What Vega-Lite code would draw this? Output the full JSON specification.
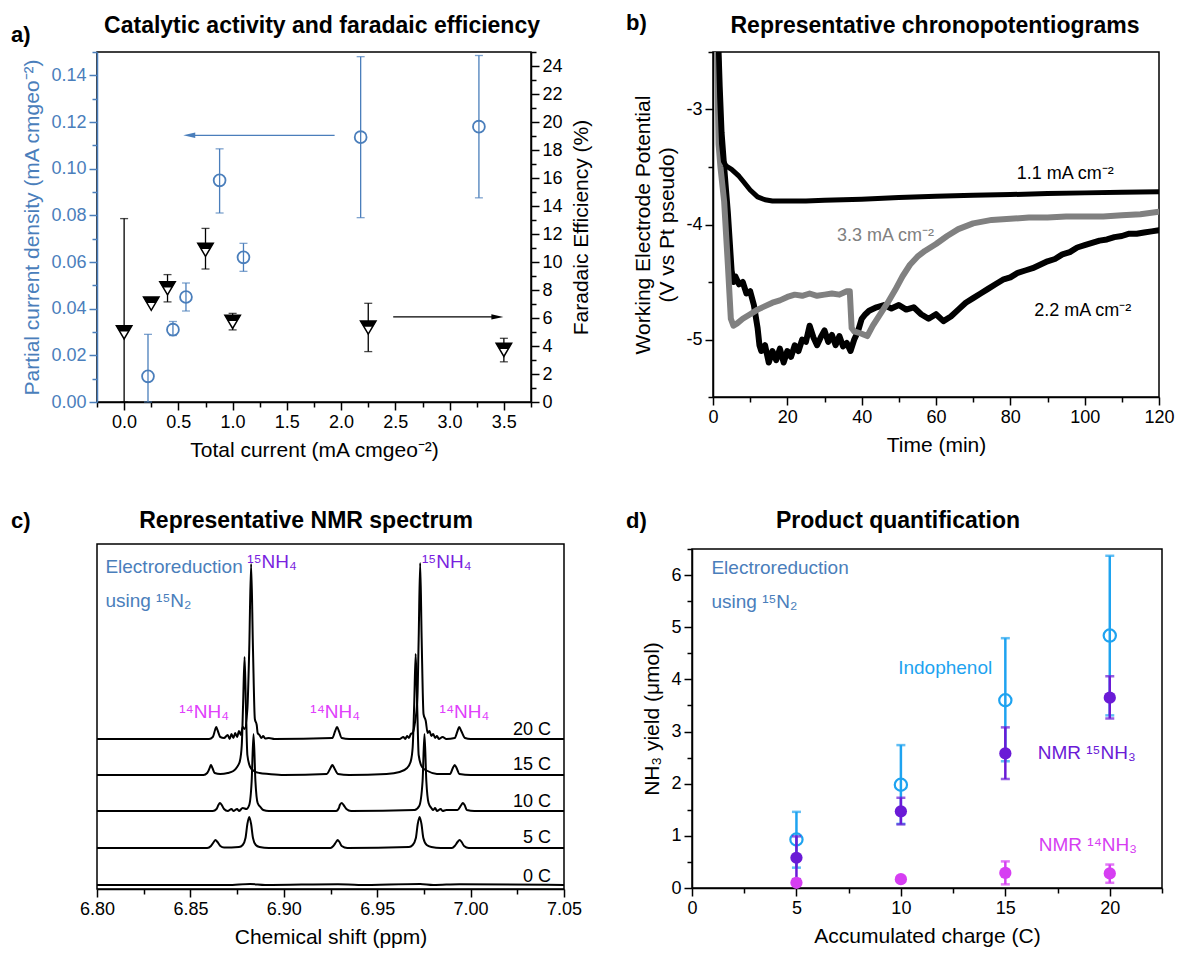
{
"$schema": "https://vega.github.io/schema/vega-lite/v6.json",
"background": "white",
"padding": {"left": 10, "top": 11, "right": 2, "bottom": 2},
"config": {
  "font": "Liberation Sans",
  "view": {"stroke": "black", "strokeWidth": 1.5},
  "axis": {"labelFont": "Liberation Sans", "titleFont": "Liberation Sans", "labelFontSize": 18, "titleFontSize": 21, "titleFontWeight": "normal", "grid": false, "tickSize": 8, "tickWidth": 1.5, "domainWidth": 1.5, "domainColor": "black", "tickColor": "black", "labelColor": "black", "titleColor": "black", "labelPadding": 3, "titlePadding": 8, "labelFlush": false, "labelOverlap": false, "labelBound": false},
  "text": {"font": "Liberation Sans"}
},
"datasets": {
  "a_pcd": [
    {"tc":0.22,"pcd":0.011,"lo":0.0,"hi":0.029},
    {"tc":0.45,"pcd":0.031,"lo":0.0285,"hi":0.0345},
    {"tc":0.57,"pcd":0.045,"lo":0.039,"hi":0.051},
    {"tc":0.88,"pcd":0.095,"lo":0.081,"hi":0.1085},
    {"tc":1.10,"pcd":0.062,"lo":0.056,"hi":0.068},
    {"tc":2.18,"pcd":0.1135,"lo":0.079,"hi":0.148},
    {"tc":3.27,"pcd":0.118,"lo":0.0875,"hi":0.1485}
  ],
  "a_fe": [
    {"tc":0.0,"fe":5.0,"lo":0,"hi":13.1},
    {"tc":0.25,"fe":7.05,"lo":7.05,"hi":7.05},
    {"tc":0.40,"fe":8.15,"lo":7.15,"hi":9.1},
    {"tc":0.75,"fe":10.9,"lo":9.5,"hi":12.4},
    {"tc":1.0,"fe":5.75,"lo":5.15,"hi":6.33},
    {"tc":2.25,"fe":5.35,"lo":3.6,"hi":7.05},
    {"tc":3.5,"fe":3.75,"lo":2.87,"hi":4.55}
  ],
  "b_lines": [
    {"t":1.3,"v":-2.3,"s":"1.1"},{"t":1.8,"v":-2.9,"s":"1.1"},{"t":2.3,"v":-3.3,"s":"1.1"},{"t":2.8,"v":-3.45,"s":"1.1"},{"t":3.5,"v":-3.49,"s":"1.1"},{"t":5,"v":-3.52,"s":"1.1"},{"t":7,"v":-3.58,"s":"1.1"},{"t":8,"v":-3.62,"s":"1.1"},{"t":10,"v":-3.70,"s":"1.1"},{"t":12,"v":-3.76,"s":"1.1"},{"t":14,"v":-3.785,"s":"1.1"},{"t":16,"v":-3.795,"s":"1.1"},{"t":20,"v":-3.795,"s":"1.1"},{"t":25,"v":-3.795,"s":"1.1"},{"t":30,"v":-3.79,"s":"1.1"},{"t":40,"v":-3.78,"s":"1.1"},{"t":50,"v":-3.765,"s":"1.1"},{"t":60,"v":-3.755,"s":"1.1"},{"t":70,"v":-3.745,"s":"1.1"},{"t":80,"v":-3.74,"s":"1.1"},{"t":90,"v":-3.73,"s":"1.1"},{"t":100,"v":-3.725,"s":"1.1"},{"t":110,"v":-3.72,"s":"1.1"},{"t":120,"v":-3.715,"s":"1.1"},
    {"t":1.0,"v":-2.3,"s":"3.3"},{"t":1.5,"v":-3.3,"s":"3.3"},{"t":2.0,"v":-3.5,"s":"3.3"},{"t":3.0,"v":-3.8,"s":"3.3"},{"t":4.0,"v":-4.35,"s":"3.3"},{"t":4.8,"v":-4.82,"s":"3.3"},{"t":5.5,"v":-4.88,"s":"3.3"},{"t":6.5,"v":-4.86,"s":"3.3"},{"t":8,"v":-4.82,"s":"3.3"},{"t":10,"v":-4.78,"s":"3.3"},{"t":12,"v":-4.74,"s":"3.3"},{"t":14,"v":-4.71,"s":"3.3"},{"t":16,"v":-4.68,"s":"3.3"},{"t":18,"v":-4.66,"s":"3.3"},{"t":20,"v":-4.63,"s":"3.3"},{"t":22,"v":-4.61,"s":"3.3"},{"t":24,"v":-4.62,"s":"3.3"},{"t":26,"v":-4.6,"s":"3.3"},{"t":28,"v":-4.62,"s":"3.3"},{"t":30,"v":-4.61,"s":"3.3"},{"t":32,"v":-4.6,"s":"3.3"},{"t":34,"v":-4.61,"s":"3.3"},{"t":36,"v":-4.58,"s":"3.3"},{"t":36.8,"v":-4.58,"s":"3.3"},{"t":37.3,"v":-4.9,"s":"3.3"},{"t":38,"v":-4.93,"s":"3.3"},{"t":40,"v":-4.95,"s":"3.3"},{"t":41.5,"v":-4.97,"s":"3.3"},{"t":43,"v":-4.88,"s":"3.3"},{"t":45,"v":-4.78,"s":"3.3"},{"t":47,"v":-4.68,"s":"3.3"},{"t":49,"v":-4.57,"s":"3.3"},{"t":51,"v":-4.45,"s":"3.3"},{"t":53,"v":-4.35,"s":"3.3"},{"t":55,"v":-4.28,"s":"3.3"},{"t":57,"v":-4.23,"s":"3.3"},{"t":60,"v":-4.17,"s":"3.3"},{"t":63,"v":-4.1,"s":"3.3"},{"t":66,"v":-4.04,"s":"3.3"},{"t":70,"v":-3.99,"s":"3.3"},{"t":75,"v":-3.96,"s":"3.3"},{"t":80,"v":-3.95,"s":"3.3"},{"t":85,"v":-3.94,"s":"3.3"},{"t":90,"v":-3.94,"s":"3.3"},{"t":95,"v":-3.93,"s":"3.3"},{"t":100,"v":-3.93,"s":"3.3"},{"t":105,"v":-3.93,"s":"3.3"},{"t":110,"v":-3.92,"s":"3.3"},{"t":115,"v":-3.91,"s":"3.3"},{"t":120,"v":-3.89,"s":"3.3"},
    {"t":1.3,"v":-2.3,"s":"2.2"},{"t":1.8,"v":-2.8,"s":"2.2"},{"t":2.3,"v":-3.2,"s":"2.2"},{"t":3,"v":-3.5,"s":"2.2"},{"t":3.5,"v":-3.7,"s":"2.2"},{"t":4,"v":-3.9,"s":"2.2"},{"t":4.5,"v":-4.15,"s":"2.2"},{"t":5,"v":-4.4,"s":"2.2"},{"t":5.5,"v":-4.5,"s":"2.2"},{"t":6,"v":-4.45,"s":"2.2"},{"t":7,"v":-4.52,"s":"2.2"},{"t":8,"v":-4.5,"s":"2.2"},{"t":9,"v":-4.6,"s":"2.2"},{"t":10,"v":-4.58,"s":"2.2"},{"t":11,"v":-4.7,"s":"2.2"},{"t":12,"v":-4.9,"s":"2.2"},{"t":12.5,"v":-5.05,"s":"2.2"},{"t":13,"v":-5.1,"s":"2.2"},{"t":14,"v":-5.05,"s":"2.2"},{"t":15,"v":-5.2,"s":"2.2"},{"t":16,"v":-5.1,"s":"2.2"},{"t":17,"v":-5.18,"s":"2.2"},{"t":18,"v":-5.08,"s":"2.2"},{"t":19,"v":-5.2,"s":"2.2"},{"t":20,"v":-5.1,"s":"2.2"},{"t":21,"v":-5.15,"s":"2.2"},{"t":22,"v":-5.05,"s":"2.2"},{"t":23,"v":-5.1,"s":"2.2"},{"t":24,"v":-5.0,"s":"2.2"},{"t":25,"v":-5.02,"s":"2.2"},{"t":26,"v":-4.88,"s":"2.2"},{"t":27,"v":-4.98,"s":"2.2"},{"t":28,"v":-5.05,"s":"2.2"},{"t":29,"v":-4.98,"s":"2.2"},{"t":30,"v":-4.92,"s":"2.2"},{"t":31,"v":-5.02,"s":"2.2"},{"t":32,"v":-4.96,"s":"2.2"},{"t":33,"v":-5.05,"s":"2.2"},{"t":34,"v":-4.97,"s":"2.2"},{"t":35,"v":-5.06,"s":"2.2"},{"t":36,"v":-5.03,"s":"2.2"},{"t":37,"v":-5.1,"s":"2.2"},{"t":38,"v":-5.0,"s":"2.2"},{"t":39,"v":-4.93,"s":"2.2"},{"t":40,"v":-4.82,"s":"2.2"},{"t":41,"v":-4.78,"s":"2.2"},{"t":42,"v":-4.75,"s":"2.2"},{"t":44,"v":-4.72,"s":"2.2"},{"t":46,"v":-4.7,"s":"2.2"},{"t":48,"v":-4.73,"s":"2.2"},{"t":50,"v":-4.7,"s":"2.2"},{"t":52,"v":-4.74,"s":"2.2"},{"t":54,"v":-4.72,"s":"2.2"},{"t":56,"v":-4.78,"s":"2.2"},{"t":58,"v":-4.82,"s":"2.2"},{"t":60,"v":-4.78,"s":"2.2"},{"t":62,"v":-4.84,"s":"2.2"},{"t":64,"v":-4.8,"s":"2.2"},{"t":66,"v":-4.74,"s":"2.2"},{"t":68,"v":-4.68,"s":"2.2"},{"t":70,"v":-4.64,"s":"2.2"},{"t":72,"v":-4.6,"s":"2.2"},{"t":74,"v":-4.56,"s":"2.2"},{"t":76,"v":-4.52,"s":"2.2"},{"t":78,"v":-4.48,"s":"2.2"},{"t":80,"v":-4.46,"s":"2.2"},{"t":82,"v":-4.42,"s":"2.2"},{"t":84,"v":-4.4,"s":"2.2"},{"t":86,"v":-4.38,"s":"2.2"},{"t":88,"v":-4.35,"s":"2.2"},{"t":90,"v":-4.32,"s":"2.2"},{"t":92,"v":-4.3,"s":"2.2"},{"t":94,"v":-4.26,"s":"2.2"},{"t":96,"v":-4.24,"s":"2.2"},{"t":98,"v":-4.2,"s":"2.2"},{"t":100,"v":-4.18,"s":"2.2"},{"t":102,"v":-4.16,"s":"2.2"},{"t":104,"v":-4.14,"s":"2.2"},{"t":106,"v":-4.13,"s":"2.2"},{"t":108,"v":-4.11,"s":"2.2"},{"t":110,"v":-4.1,"s":"2.2"},{"t":112,"v":-4.08,"s":"2.2"},{"t":114,"v":-4.08,"s":"2.2"},{"t":116,"v":-4.07,"s":"2.2"},{"t":118,"v":-4.06,"s":"2.2"},{"t":120,"v":-4.05,"s":"2.2"}
  ],
  "c_spec": [
    {"p":6.8,"I":150,"s":"20"},{"p":6.86,"I":150,"s":"20"},{"p":6.862,"I":152,"s":"20"},{"p":6.8632,"I":159,"s":"20"},{"p":6.8638,"I":162,"s":"20"},{"p":6.8645,"I":159,"s":"20"},{"p":6.866,"I":152,"s":"20"},{"p":6.868,"I":151,"s":"20"},{"p":6.87,"I":154,"s":"20"},{"p":6.871,"I":150,"s":"20"},{"p":6.872,"I":155,"s":"20"},{"p":6.873,"I":151,"s":"20"},{"p":6.874,"I":156,"s":"20"},{"p":6.875,"I":152,"s":"20"},{"p":6.876,"I":158,"s":"20"},{"p":6.877,"I":154,"s":"20"},{"p":6.878,"I":162,"s":"20"},{"p":6.879,"I":160,"s":"20"},{"p":6.8805,"I":180,"s":"20"},{"p":6.8815,"I":240,"s":"20"},{"p":6.8825,"I":325,"s":"20"},{"p":6.8835,"I":240,"s":"20"},{"p":6.8845,"I":170,"s":"20"},{"p":6.8855,"I":164,"s":"20"},{"p":6.886,"I":156,"s":"20"},{"p":6.887,"I":154,"s":"20"},{"p":6.888,"I":151,"s":"20"},{"p":6.889,"I":153,"s":"20"},{"p":6.89,"I":150.5,"s":"20"},{"p":6.892,"I":151,"s":"20"},{"p":6.895,"I":150,"s":"20"},{"p":6.926,"I":151,"s":"20"},{"p":6.9275,"I":158,"s":"20"},{"p":6.9285,"I":162,"s":"20"},{"p":6.9295,"I":158,"s":"20"},{"p":6.931,"I":151,"s":"20"},{"p":6.935,"I":150,"s":"20"},{"p":6.962,"I":150,"s":"20"},{"p":6.964,"I":152,"s":"20"},{"p":6.965,"I":150,"s":"20"},{"p":6.966,"I":153,"s":"20"},{"p":6.967,"I":151,"s":"20"},{"p":6.968,"I":155,"s":"20"},{"p":6.969,"I":156,"s":"20"},{"p":6.97,"I":164,"s":"20"},{"p":6.9715,"I":190,"s":"20"},{"p":6.9722,"I":250,"s":"20"},{"p":6.973,"I":326,"s":"20"},{"p":6.9738,"I":250,"s":"20"},{"p":6.9748,"I":175,"s":"20"},{"p":6.976,"I":168,"s":"20"},{"p":6.977,"I":156,"s":"20"},{"p":6.978,"I":158,"s":"20"},{"p":6.979,"I":153,"s":"20"},{"p":6.98,"I":155,"s":"20"},{"p":6.981,"I":151,"s":"20"},{"p":6.982,"I":153,"s":"20"},{"p":6.983,"I":150,"s":"20"},{"p":6.985,"I":152,"s":"20"},{"p":6.987,"I":150,"s":"20"},{"p":6.9915,"I":151,"s":"20"},{"p":6.993,"I":158,"s":"20"},{"p":6.9939,"I":162,"s":"20"},{"p":6.995,"I":158,"s":"20"},{"p":6.997,"I":151,"s":"20"},{"p":7.0,"I":150,"s":"20"},{"p":7.05,"I":150,"s":"20"},
    {"p":6.8,"I":114,"s":"15"},{"p":6.857,"I":114,"s":"15"},{"p":6.859,"I":116,"s":"15"},{"p":6.8603,"I":121,"s":"15"},{"p":6.861,"I":124,"s":"15"},{"p":6.8618,"I":121,"s":"15"},{"p":6.863,"I":116,"s":"15"},{"p":6.866,"I":115,"s":"15"},{"p":6.87,"I":116,"s":"15"},{"p":6.873,"I":118,"s":"15"},{"p":6.875,"I":122,"s":"15"},{"p":6.8765,"I":128,"s":"15"},{"p":6.8775,"I":144,"s":"15"},{"p":6.8782,"I":184,"s":"15"},{"p":6.879,"I":232,"s":"15"},{"p":6.8797,"I":184,"s":"15"},{"p":6.8805,"I":134,"s":"15"},{"p":6.882,"I":122,"s":"15"},{"p":6.884,"I":118,"s":"15"},{"p":6.887,"I":116,"s":"15"},{"p":6.892,"I":115,"s":"15"},{"p":6.9,"I":114,"s":"15"},{"p":6.923,"I":115,"s":"15"},{"p":6.925,"I":121,"s":"15"},{"p":6.926,"I":124,"s":"15"},{"p":6.927,"I":121,"s":"15"},{"p":6.929,"I":115,"s":"15"},{"p":6.935,"I":114,"s":"15"},{"p":6.955,"I":115,"s":"15"},{"p":6.962,"I":117,"s":"15"},{"p":6.966,"I":121,"s":"15"},{"p":6.968,"I":128,"s":"15"},{"p":6.969,"I":142,"s":"15"},{"p":6.9698,"I":184,"s":"15"},{"p":6.9706,"I":235,"s":"15"},{"p":6.9714,"I":184,"s":"15"},{"p":6.9722,"I":134,"s":"15"},{"p":6.974,"I":122,"s":"15"},{"p":6.977,"I":118,"s":"15"},{"p":6.982,"I":115,"s":"15"},{"p":6.989,"I":115,"s":"15"},{"p":6.9905,"I":121,"s":"15"},{"p":6.9915,"I":124,"s":"15"},{"p":6.9925,"I":121,"s":"15"},{"p":6.994,"I":115,"s":"15"},{"p":7.0,"I":114,"s":"15"},{"p":7.05,"I":114,"s":"15"},
    {"p":6.8,"I":78,"s":"10"},{"p":6.862,"I":78,"s":"10"},{"p":6.864,"I":80,"s":"10"},{"p":6.865,"I":84,"s":"10"},{"p":6.8658,"I":86,"s":"10"},{"p":6.8668,"I":84,"s":"10"},{"p":6.868,"I":80,"s":"10"},{"p":6.87,"I":78,"s":"10"},{"p":6.872,"I":80,"s":"10"},{"p":6.873,"I":78,"s":"10"},{"p":6.875,"I":80,"s":"10"},{"p":6.876,"I":78,"s":"10"},{"p":6.878,"I":81,"s":"10"},{"p":6.88,"I":80,"s":"10"},{"p":6.8815,"I":84,"s":"10"},{"p":6.8828,"I":108,"s":"10"},{"p":6.8838,"I":155,"s":"10"},{"p":6.8848,"I":108,"s":"10"},{"p":6.886,"I":86,"s":"10"},{"p":6.8875,"I":82,"s":"10"},{"p":6.889,"I":79,"s":"10"},{"p":6.892,"I":78,"s":"10"},{"p":6.928,"I":78,"s":"10"},{"p":6.9295,"I":81,"s":"10"},{"p":6.93,"I":84,"s":"10"},{"p":6.931,"I":86,"s":"10"},{"p":6.932,"I":84,"s":"10"},{"p":6.9335,"I":80,"s":"10"},{"p":6.936,"I":78,"s":"10"},{"p":6.97,"I":79,"s":"10"},{"p":6.9725,"I":83,"s":"10"},{"p":6.9743,"I":108,"s":"10"},{"p":6.9753,"I":155,"s":"10"},{"p":6.9763,"I":108,"s":"10"},{"p":6.9775,"I":86,"s":"10"},{"p":6.979,"I":81,"s":"10"},{"p":6.98,"I":79,"s":"10"},{"p":6.981,"I":81,"s":"10"},{"p":6.982,"I":78,"s":"10"},{"p":6.984,"I":80,"s":"10"},{"p":6.985,"I":78,"s":"10"},{"p":6.987,"I":79,"s":"10"},{"p":6.993,"I":79,"s":"10"},{"p":6.995,"I":84,"s":"10"},{"p":6.9958,"I":86,"s":"10"},{"p":6.9968,"I":84,"s":"10"},{"p":6.998,"I":79,"s":"10"},{"p":7.002,"I":78,"s":"10"},{"p":7.05,"I":78,"s":"10"},
    {"p":6.8,"I":41,"s":"5"},{"p":6.859,"I":41,"s":"5"},{"p":6.861,"I":43,"s":"5"},{"p":6.8625,"I":47,"s":"5"},{"p":6.8634,"I":49,"s":"5"},{"p":6.8645,"I":47,"s":"5"},{"p":6.866,"I":43,"s":"5"},{"p":6.868,"I":41.5,"s":"5"},{"p":6.876,"I":42,"s":"5"},{"p":6.878,"I":44,"s":"5"},{"p":6.8795,"I":51,"s":"5"},{"p":6.8805,"I":65,"s":"5"},{"p":6.8815,"I":72,"s":"5"},{"p":6.8825,"I":65,"s":"5"},{"p":6.8835,"I":51,"s":"5"},{"p":6.885,"I":44,"s":"5"},{"p":6.887,"I":42,"s":"5"},{"p":6.892,"I":41,"s":"5"},{"p":6.925,"I":41,"s":"5"},{"p":6.9265,"I":43,"s":"5"},{"p":6.928,"I":47,"s":"5"},{"p":6.9288,"I":49,"s":"5"},{"p":6.9298,"I":47,"s":"5"},{"p":6.931,"I":43,"s":"5"},{"p":6.934,"I":41,"s":"5"},{"p":6.967,"I":42,"s":"5"},{"p":6.969,"I":44,"s":"5"},{"p":6.9707,"I":51,"s":"5"},{"p":6.9717,"I":65,"s":"5"},{"p":6.9727,"I":72,"s":"5"},{"p":6.9737,"I":65,"s":"5"},{"p":6.9747,"I":51,"s":"5"},{"p":6.9765,"I":44,"s":"5"},{"p":6.979,"I":42,"s":"5"},{"p":6.984,"I":41,"s":"5"},{"p":6.99,"I":41,"s":"5"},{"p":6.9915,"I":43,"s":"5"},{"p":6.993,"I":47,"s":"5"},{"p":6.9941,"I":49,"s":"5"},{"p":6.9952,"I":47,"s":"5"},{"p":6.9965,"I":43,"s":"5"},{"p":6.999,"I":41,"s":"5"},{"p":7.05,"I":41,"s":"5"},
    {"p":6.8,"I":4,"s":"0"},{"p":6.87,"I":4,"s":"0"},{"p":6.882,"I":5,"s":"0"},{"p":6.89,"I":4,"s":"0"},{"p":6.929,"I":4.8,"s":"0"},{"p":6.94,"I":4,"s":"0"},{"p":6.973,"I":5,"s":"0"},{"p":6.98,"I":4,"s":"0"},{"p":6.994,"I":4.8,"s":"0"},{"p":7.05,"I":4,"s":"0"}
  ],
  "d_data": [
    {"q":5,"y":0.93,"lo":0.39,"hi":1.46,"m":"indo"},{"q":10,"y":1.98,"lo":1.23,"hi":2.74,"m":"indo"},{"q":15,"y":3.60,"lo":2.43,"hi":4.79,"m":"indo"},{"q":20,"y":4.84,"lo":3.31,"hi":6.37,"m":"indo"},
    {"q":5,"y":0.58,"lo":0.17,"hi":0.99,"m":"n15"},{"q":10,"y":1.47,"lo":1.22,"hi":1.73,"m":"n15"},{"q":15,"y":2.58,"lo":2.09,"hi":3.08,"m":"n15"},{"q":20,"y":3.65,"lo":3.25,"hi":4.06,"m":"n15"},
    {"q":5,"y":0.10,"lo":0.05,"hi":0.15,"m":"n14"},{"q":10,"y":0.17,"lo":0.12,"hi":0.21,"m":"n14"},{"q":15,"y":0.29,"lo":0.07,"hi":0.51,"m":"n14"},{"q":20,"y":0.28,"lo":0.10,"hi":0.45,"m":"n14"}
  ]
},
"columns": 2,
"align": "none",
"spacing": {"row": 48, "column": 33},
"resolve": {"scale": {"color": "independent"}},
"concat": [
  {
   "width": 434, "height": 350,
   "resolve": {"scale": {"y": "independent"}, "axis": {"x": "independent", "y": "independent"}},
   "layer": [
    {"data": {"name": "a_pcd"}, "mark": {"type": "rule", "color": "#4a7ebb", "strokeWidth": 1.3},
     "encoding": {
      "x": {"field": "tc", "type": "quantitative", "scale": {"domain": [-0.25, 3.75], "nice": false, "zero": false}, "axis": {"orient": "bottom", "values": [0,0.5,1,1.5,2,2.5,3,3.5], "format": ".1f", "title": "Total current (mA cmgeo⁻²)"}},
      "y": {"field": "lo", "type": "quantitative", "scale": {"domain": [0, 0.15], "nice": false, "zero": false}, "axis": {"orient": "left", "values": [0,0.02,0.04,0.06,0.08,0.1,0.12,0.14], "format": ".2f", "title": "Partial current density (mA cmgeo⁻²)", "labelColor": "#4a7ebb", "titleColor": "#4a7ebb", "domainColor": "#4a7ebb", "tickColor": "#4a7ebb"}},
      "y2": {"field": "hi"}}},
    {"data": {"name": "a_pcd"}, "mark": {"type": "tick", "orient": "horizontal", "color": "#4a7ebb", "size": 8, "thickness": 1.3},
     "encoding": {
      "x": {"field": "tc", "type": "quantitative", "scale": {"domain": [-0.25, 3.75], "nice": false, "zero": false}, "axis": {"orient": "bottom", "values": [-0.25,0.25,0.75,1.25,1.75,2.25,2.75,3.25,3.75], "labels": false, "domain": false, "tickSize": 5, "title": null}},
      "y": {"field": "hi", "type": "quantitative", "scale": {"domain": [0, 0.15], "nice": false, "zero": false}, "axis": {"orient": "left", "values": [0.01,0.03,0.05,0.07,0.09,0.11,0.13,0.15], "labels": false, "domain": false, "tickSize": 5, "title": null, "tickColor": "#4a7ebb"}}}},
    {"data": {"name": "a_pcd"}, "mark": {"type": "tick", "orient": "horizontal", "color": "#4a7ebb", "size": 8, "thickness": 1.3},
     "encoding": {
      "x": {"field": "tc", "type": "quantitative", "scale": {"domain": [-0.25, 3.75], "nice": false, "zero": false}, "axis": null},
      "y": {"field": "lo", "type": "quantitative", "scale": {"domain": [0, 0.15], "nice": false, "zero": false}, "axis": null}}},
    {"data": {"name": "a_pcd"}, "mark": {"type": "point", "shape": "circle", "filled": false, "color": "#4a7ebb", "strokeWidth": 1.8, "size": 140, "opacity": 1},
     "encoding": {
      "x": {"field": "tc", "type": "quantitative", "scale": {"domain": [-0.25, 3.75], "nice": false, "zero": false}, "axis": null},
      "y": {"field": "pcd", "type": "quantitative", "scale": {"domain": [0, 0.15], "nice": false, "zero": false}, "axis": null}}},
    {"data": {"values": [{"x1": 1.94, "x2": 0.6, "y": 0.1143}]}, "mark": {"type": "rule", "color": "#4a7ebb", "strokeWidth": 1.3},
     "encoding": {
      "x": {"field": "x1", "type": "quantitative", "scale": {"domain": [-0.25, 3.75], "nice": false, "zero": false}, "axis": null},
      "x2": {"field": "x2"},
      "y": {"field": "y", "type": "quantitative", "scale": {"domain": [0, 0.15], "nice": false, "zero": false}, "axis": null}}},
    {"data": {"values": [{"x2": 0.6, "y": 0.1143}]}, "mark": {"type": "point", "shape": "M-1,0L1,-0.45L1,0.45Z", "filled": true, "color": "#4a7ebb", "size": 144, "opacity": 1},
     "encoding": {
      "x": {"field": "x2", "type": "quantitative", "scale": {"domain": [-0.25, 3.75], "nice": false, "zero": false}, "axis": null},
      "y": {"field": "y", "type": "quantitative", "scale": {"domain": [0, 0.15], "nice": false, "zero": false}, "axis": null}}},
    {"data": {"name": "a_fe"}, "mark": {"type": "rule", "color": "black", "strokeWidth": 1.3},
     "encoding": {
      "x": {"field": "tc", "type": "quantitative", "scale": {"domain": [-0.25, 3.75], "nice": false, "zero": false}, "axis": null},
      "y": {"field": "lo", "type": "quantitative", "scale": {"domain": [0, 25], "nice": false, "zero": false}, "axis": {"orient": "right", "values": [0,2,4,6,8,10,12,14,16,18,20,22,24], "title": "Faradaic Efficiency (%)", "titleAngle": 270, "titleBaseline": "top"}},
      "y2": {"field": "hi"}}},
    {"data": {"name": "a_fe"}, "mark": {"type": "tick", "orient": "horizontal", "color": "black", "size": 8, "thickness": 1.3},
     "encoding": {
      "x": {"field": "tc", "type": "quantitative", "scale": {"domain": [-0.25, 3.75], "nice": false, "zero": false}, "axis": null},
      "y": {"field": "hi", "type": "quantitative", "scale": {"domain": [0, 25], "nice": false, "zero": false}, "axis": {"orient": "right", "values": [1,3,5,7,9,11,13,15,17,19,21,23,25], "labels": false, "domain": false, "tickSize": 5, "title": null}}}},
    {"data": {"name": "a_fe"}, "mark": {"type": "tick", "orient": "horizontal", "color": "black", "size": 8, "thickness": 1.3},
     "encoding": {
      "x": {"field": "tc", "type": "quantitative", "scale": {"domain": [-0.25, 3.75], "nice": false, "zero": false}, "axis": null},
      "y": {"field": "lo", "type": "quantitative", "scale": {"domain": [0, 25], "nice": false, "zero": false}, "axis": null}}},
    {"data": {"name": "a_fe"}, "mark": {"type": "point", "shape": "M-1,-0.8L1,-0.8L0,0.9Z", "filled": true, "fill": "white", "stroke": "black", "strokeWidth": 1.5, "size": 240, "opacity": 1},
     "encoding": {
      "x": {"field": "tc", "type": "quantitative", "scale": {"domain": [-0.25, 3.75], "nice": false, "zero": false}, "axis": null},
      "y": {"field": "fe", "type": "quantitative", "scale": {"domain": [0, 25], "nice": false, "zero": false}, "axis": null}}},
    {"data": {"name": "a_fe"}, "mark": {"type": "point", "shape": "M-1,-0.8L1,-0.8L0.6,-0.05L-0.6,-0.05Z", "filled": true, "color": "black", "size": 240, "opacity": 1},
     "encoding": {
      "x": {"field": "tc", "type": "quantitative", "scale": {"domain": [-0.25, 3.75], "nice": false, "zero": false}, "axis": null},
      "y": {"field": "fe", "type": "quantitative", "scale": {"domain": [0, 25], "nice": false, "zero": false}, "axis": null}}},
    {"data": {"values": [{"x1": 2.48, "x2": 3.44, "y": 6.08}]}, "mark": {"type": "rule", "color": "black", "strokeWidth": 1.3},
     "encoding": {
      "x": {"field": "x1", "type": "quantitative", "scale": {"domain": [-0.25, 3.75], "nice": false, "zero": false}, "axis": null},
      "x2": {"field": "x2"},
      "y": {"field": "y", "type": "quantitative", "scale": {"domain": [0, 25], "nice": false, "zero": false}, "axis": null}}},
    {"data": {"values": [{"x2": 3.44, "y": 6.08}]}, "mark": {"type": "point", "shape": "M1,0L-1,-0.45L-1,0.45Z", "filled": true, "color": "black", "size": 144, "opacity": 1},
     "encoding": {
      "x": {"field": "x2", "type": "quantitative", "scale": {"domain": [-0.25, 3.75], "nice": false, "zero": false}, "axis": null},
      "y": {"field": "y", "type": "quantitative", "scale": {"domain": [0, 25], "nice": false, "zero": false}, "axis": null}}},
    {"data": {"values": [{"x": -1.043, "y": 0.1573, "label": "a)"}]}, "mark": {"type": "text", "fontSize": 22, "fontWeight": "bold", "align": "left", "baseline": "middle", "color": "black"},
     "encoding": {
      "x": {"field": "x", "type": "quantitative", "scale": {"domain": [-0.25, 3.75], "nice": false, "zero": false}, "axis": null},
      "y": {"field": "y", "type": "quantitative", "scale": {"domain": [0, 0.15], "nice": false, "zero": false}, "axis": null},
      "text": {"field": "label"}}},
    {"data": {"values": [{"x": 1.824, "y": 0.1611, "label": "Catalytic activity and faradaic efficiency"}]}, "mark": {"type": "text", "fontSize": 23, "fontWeight": "bold", "align": "center", "baseline": "middle", "color": "black"},
     "encoding": {
      "x": {"field": "x", "type": "quantitative", "scale": {"domain": [-0.25, 3.75], "nice": false, "zero": false}, "axis": null},
      "y": {"field": "y", "type": "quantitative", "scale": {"domain": [0, 0.15], "nice": false, "zero": false}, "axis": null},
      "text": {"field": "label"}}}
   ]
  },
  {
   "width": 446, "height": 345,
   "resolve": {"axis": {"x": "independent", "y": "independent"}},
   "layer": [
    {"data": {"name": "b_lines"}, "transform": [{"filter": "datum.s === '2.2'"}],
     "mark": {"type": "line", "color": "black", "strokeWidth": 6, "clip": true, "strokeJoin": "round", "strokeCap": "round"},
     "encoding": {
      "x": {"field": "t", "type": "quantitative", "scale": {"domain": [0, 120], "nice": false, "zero": false}, "axis": {"orient": "bottom", "values": [0,20,40,60,80,100,120], "title": "Time (min)"}},
      "y": {"field": "v", "type": "quantitative", "scale": {"domain": [-5.5, -2.5], "nice": false, "zero": false}, "axis": {"orient": "left", "values": [-5,-4,-3], "labelExpr": "'-' + abs(datum.value)", "title": ["Working Electrode Potential", "(V vs Pt pseudo)"], "titleLineHeight": 24}}}},
    {"data": {"name": "b_lines"}, "transform": [{"filter": "datum.s === '3.3'"}],
     "mark": {"type": "line", "color": "#808080", "strokeWidth": 6, "clip": true, "strokeJoin": "round", "strokeCap": "round"},
     "encoding": {
      "x": {"field": "t", "type": "quantitative", "scale": {"domain": [0, 120], "nice": false, "zero": false}, "axis": {"orient": "bottom", "values": [10,30,50,70,90,110], "labels": false, "domain": false, "tickSize": 5, "title": null}},
      "y": {"field": "v", "type": "quantitative", "scale": {"domain": [-5.5, -2.5], "nice": false, "zero": false}, "axis": {"orient": "left", "values": [-5.5,-4.5,-3.5,-2.5], "labels": false, "domain": false, "tickSize": 5, "title": null}}}},
    {"data": {"name": "b_lines"}, "transform": [{"filter": "datum.s === '1.1'"}],
     "mark": {"type": "line", "color": "black", "strokeWidth": 5, "clip": true, "strokeJoin": "round", "strokeCap": "round"},
     "encoding": {
      "x": {"field": "t", "type": "quantitative", "scale": {"domain": [0, 120], "nice": false, "zero": false}, "axis": null},
      "y": {"field": "v", "type": "quantitative", "scale": {"domain": [-5.5, -2.5], "nice": false, "zero": false}, "axis": null}}},
    {"data": {"values": [{"t": 94.8, "v": -3.56, "label": "1.1 mA cm⁻²", "c": "k"}, {"t": 99.5, "v": -4.75, "label": "2.2 mA cm⁻²", "c": "k"}, {"t": 46.4, "v": -4.10, "label": "3.3 mA cm⁻²", "c": "g"}]},
     "mark": {"type": "text", "fontSize": 18, "align": "center", "baseline": "middle"},
     "encoding": {
      "x": {"field": "t", "type": "quantitative", "scale": {"domain": [0, 120], "nice": false, "zero": false}, "axis": null},
      "y": {"field": "v", "type": "quantitative", "scale": {"domain": [-5.5, -2.5], "nice": false, "zero": false}, "axis": null},
      "text": {"field": "label"},
      "color": {"field": "c", "type": "nominal", "scale": {"domain": ["k","g","blue","purple","magenta","indo","n15","n14"], "range": ["black","#808080","#4a7ebb","#7a1fe0","#e040fb","#1ea3f0","#6a1ad6","#d63ef2"]}, "legend": null}}},
    {"data": {"values": [{"t": -23.41, "v": -2.248, "label": "b)"}]}, "mark": {"type": "text", "fontSize": 22, "fontWeight": "bold", "align": "left", "baseline": "middle", "color": "black"},
     "encoding": {
      "x": {"field": "t", "type": "quantitative", "scale": {"domain": [0, 120], "nice": false, "zero": false}, "axis": null},
      "y": {"field": "v", "type": "quantitative", "scale": {"domain": [-5.5, -2.5], "nice": false, "zero": false}, "axis": null},
      "text": {"field": "label"}}},
    {"data": {"values": [{"t": 59.73, "v": -2.274, "label": "Representative chronopotentiograms"}]}, "mark": {"type": "text", "fontSize": 23, "fontWeight": "bold", "align": "center", "baseline": "middle", "color": "black"},
     "encoding": {
      "x": {"field": "t", "type": "quantitative", "scale": {"domain": [0, 120], "nice": false, "zero": false}, "axis": null},
      "y": {"field": "v", "type": "quantitative", "scale": {"domain": [-5.5, -2.5], "nice": false, "zero": false}, "axis": null},
      "text": {"field": "label"}}}
   ]
  },
  {
   "width": 467, "height": 345,
   "resolve": {"axis": {"x": "independent", "y": "independent"}},
   "layer": [
    {"data": {"name": "c_spec"}, "mark": {"type": "line", "color": "black", "strokeWidth": 2, "interpolate": "monotone"},
     "encoding": {
      "x": {"field": "p", "type": "quantitative", "scale": {"domain": [6.8, 7.05], "nice": false, "zero": false}, "axis": {"orient": "bottom", "values": [6.8,6.85,6.9,6.95,7.0,7.05], "format": ".2f", "title": "Chemical shift (ppm)"}},
      "y": {"field": "I", "type": "quantitative", "scale": {"domain": [0, 345], "nice": false, "zero": false}, "axis": null},
      "detail": {"field": "s", "type": "nominal"}}},
    {"data": {"values": [
       {"p": 6.8045, "I": 322, "label": "Electroreduction", "tone": "blue"},
       {"p": 6.8045, "I": 288, "label": "using ¹⁵N₂", "tone": "blue"},
       {"p": 6.8805, "I": 327, "label": "¹⁵NH₄", "tone": "purple"},
       {"p": 6.974, "I": 327, "label": "¹⁵NH₄", "tone": "purple"},
       {"p": 6.844, "I": 177, "label": "¹⁴NH₄", "tone": "magenta"},
       {"p": 6.9142, "I": 177, "label": "¹⁴NH₄", "tone": "magenta"},
       {"p": 6.9834, "I": 177, "label": "¹⁴NH₄", "tone": "magenta"}]},
     "mark": {"type": "text", "fontSize": 19, "align": "left", "baseline": "middle"},
     "encoding": {
      "x": {"field": "p", "type": "quantitative", "scale": {"domain": [6.8, 7.05], "nice": false, "zero": false}, "axis": {"orient": "bottom", "values": [6.825,6.875,6.925,6.975,7.025], "labels": false, "domain": false, "tickSize": 5, "title": null}},
      "y": {"field": "I", "type": "quantitative", "scale": {"domain": [0, 345], "nice": false, "zero": false}, "axis": null},
      "text": {"field": "label"},
      "color": {"field": "tone", "type": "nominal", "scale": {"domain": ["k","g","blue","purple","magenta","indo","n15","n14"], "range": ["black","#808080","#4a7ebb","#7a1fe0","#e040fb","#1ea3f0","#6a1ad6","#d63ef2"]}, "legend": null}}},
    {"data": {"values": [
       {"p": 7.043, "I": 159, "label": "20 C"}, {"p": 7.043, "I": 124, "label": "15 C"}, {"p": 7.043, "I": 87, "label": "10 C"}, {"p": 7.043, "I": 51, "label": "5 C"}, {"p": 7.043, "I": 12, "label": "0 C"}]},
     "mark": {"type": "text", "fontSize": 18, "align": "right", "baseline": "middle", "color": "black"},
     "encoding": {
      "x": {"field": "p", "type": "quantitative", "scale": {"domain": [6.8, 7.05], "nice": false, "zero": false}, "axis": null},
      "y": {"field": "I", "type": "quantitative", "scale": {"domain": [0, 345], "nice": false, "zero": false}, "axis": null},
      "text": {"field": "label"}}},
    {"data": {"values": [{"p": 6.754, "I": 368, "label": "c)"}]}, "mark": {"type": "text", "fontSize": 22, "fontWeight": "bold", "align": "left", "baseline": "middle", "color": "black"},
     "encoding": {
      "x": {"field": "p", "type": "quantitative", "scale": {"domain": [6.8, 7.05], "nice": false, "zero": false}, "axis": null},
      "y": {"field": "I", "type": "quantitative", "scale": {"domain": [0, 345], "nice": false, "zero": false}, "axis": null},
      "text": {"field": "label"}}},
    {"data": {"values": [{"p": 6.9119, "I": 368, "label": "Representative NMR spectrum"}]}, "mark": {"type": "text", "fontSize": 23, "fontWeight": "bold", "align": "center", "baseline": "middle", "color": "black"},
     "encoding": {
      "x": {"field": "p", "type": "quantitative", "scale": {"domain": [6.8, 7.05], "nice": false, "zero": false}, "axis": null},
      "y": {"field": "I", "type": "quantitative", "scale": {"domain": [0, 345], "nice": false, "zero": false}, "axis": null},
      "text": {"field": "label"}}}
   ]
  },
  {
   "width": 470, "height": 339,
   "resolve": {"axis": {"x": "independent", "y": "independent"}},
   "layer": [
    {"data": {"name": "d_data"}, "transform": [{"filter": "datum.m === 'indo'"}], "mark": {"type": "rule", "color": "#1ea3f0", "strokeWidth": 2.5},
     "encoding": {
      "x": {"field": "q", "type": "quantitative", "scale": {"domain": [0, 22.5], "nice": false, "zero": false}, "axis": {"orient": "bottom", "values": [0,5,10,15,20], "title": "Accumulated charge (C)"}},
      "y": {"field": "lo", "type": "quantitative", "scale": {"domain": [0, 6.5], "nice": false, "zero": false}, "axis": {"orient": "left", "values": [0,1,2,3,4,5,6], "title": "NH₃ yield (μmol)"}},
      "y2": {"field": "hi"}}},
    {"data": {"name": "d_data"}, "transform": [{"filter": "datum.m === 'indo'"}], "mark": {"type": "tick", "orient": "horizontal", "color": "#1ea3f0", "size": 9, "thickness": 2.5},
     "encoding": {
      "x": {"field": "q", "type": "quantitative", "scale": {"domain": [0, 22.5], "nice": false, "zero": false}, "axis": {"orient": "bottom", "values": [2.5,7.5,12.5,17.5,22.5], "labels": false, "domain": false, "tickSize": 5, "title": null}},
      "y": {"field": "hi", "type": "quantitative", "scale": {"domain": [0, 6.5], "nice": false, "zero": false}, "axis": {"orient": "left", "values": [0.5,1.5,2.5,3.5,4.5,5.5,6.5], "labels": false, "domain": false, "tickSize": 5, "title": null}}}},
    {"data": {"name": "d_data"}, "transform": [{"filter": "datum.m === 'indo'"}], "mark": {"type": "tick", "orient": "horizontal", "color": "#1ea3f0", "size": 9, "thickness": 2.5},
     "encoding": {
      "x": {"field": "q", "type": "quantitative", "scale": {"domain": [0, 22.5], "nice": false, "zero": false}, "axis": null},
      "y": {"field": "lo", "type": "quantitative", "scale": {"domain": [0, 6.5], "nice": false, "zero": false}, "axis": null}}},
    {"data": {"name": "d_data"}, "transform": [{"filter": "datum.m === 'indo'"}], "mark": {"type": "point", "shape": "circle", "filled": false, "color": "#1ea3f0", "strokeWidth": 2.2, "size": 150, "opacity": 1},
     "encoding": {
      "x": {"field": "q", "type": "quantitative", "scale": {"domain": [0, 22.5], "nice": false, "zero": false}, "axis": null},
      "y": {"field": "y", "type": "quantitative", "scale": {"domain": [0, 6.5], "nice": false, "zero": false}, "axis": null}}},
    {"data": {"name": "d_data"}, "transform": [{"filter": "datum.m === 'n15'"}], "mark": {"type": "rule", "color": "#6a1ad6", "strokeWidth": 2.5},
     "encoding": {
      "x": {"field": "q", "type": "quantitative", "scale": {"domain": [0, 22.5], "nice": false, "zero": false}, "axis": null},
      "y": {"field": "lo", "type": "quantitative", "scale": {"domain": [0, 6.5], "nice": false, "zero": false}, "axis": null},
      "y2": {"field": "hi"}}},
    {"data": {"name": "d_data"}, "transform": [{"filter": "datum.m === 'n15'"}], "mark": {"type": "tick", "orient": "horizontal", "color": "#6a1ad6", "size": 9, "thickness": 2.5},
     "encoding": {
      "x": {"field": "q", "type": "quantitative", "scale": {"domain": [0, 22.5], "nice": false, "zero": false}, "axis": null},
      "y": {"field": "hi", "type": "quantitative", "scale": {"domain": [0, 6.5], "nice": false, "zero": false}, "axis": null}}},
    {"data": {"name": "d_data"}, "transform": [{"filter": "datum.m === 'n15'"}], "mark": {"type": "tick", "orient": "horizontal", "color": "#6a1ad6", "size": 9, "thickness": 2.5},
     "encoding": {
      "x": {"field": "q", "type": "quantitative", "scale": {"domain": [0, 22.5], "nice": false, "zero": false}, "axis": null},
      "y": {"field": "lo", "type": "quantitative", "scale": {"domain": [0, 6.5], "nice": false, "zero": false}, "axis": null}}},
    {"data": {"name": "d_data"}, "transform": [{"filter": "datum.m === 'n15'"}], "mark": {"type": "point", "shape": "circle", "filled": true, "color": "#6a1ad6", "size": 150, "opacity": 1},
     "encoding": {
      "x": {"field": "q", "type": "quantitative", "scale": {"domain": [0, 22.5], "nice": false, "zero": false}, "axis": null},
      "y": {"field": "y", "type": "quantitative", "scale": {"domain": [0, 6.5], "nice": false, "zero": false}, "axis": null}}},
    {"data": {"name": "d_data"}, "transform": [{"filter": "datum.m === 'n14'"}], "mark": {"type": "rule", "color": "#d63ef2", "strokeWidth": 2.5},
     "encoding": {
      "x": {"field": "q", "type": "quantitative", "scale": {"domain": [0, 22.5], "nice": false, "zero": false}, "axis": null},
      "y": {"field": "lo", "type": "quantitative", "scale": {"domain": [0, 6.5], "nice": false, "zero": false}, "axis": null},
      "y2": {"field": "hi"}}},
    {"data": {"name": "d_data"}, "transform": [{"filter": "datum.m === 'n14'"}], "mark": {"type": "tick", "orient": "horizontal", "color": "#d63ef2", "size": 9, "thickness": 2.5},
     "encoding": {
      "x": {"field": "q", "type": "quantitative", "scale": {"domain": [0, 22.5], "nice": false, "zero": false}, "axis": null},
      "y": {"field": "hi", "type": "quantitative", "scale": {"domain": [0, 6.5], "nice": false, "zero": false}, "axis": null}}},
    {"data": {"name": "d_data"}, "transform": [{"filter": "datum.m === 'n14'"}], "mark": {"type": "tick", "orient": "horizontal", "color": "#d63ef2", "size": 9, "thickness": 2.5},
     "encoding": {
      "x": {"field": "q", "type": "quantitative", "scale": {"domain": [0, 22.5], "nice": false, "zero": false}, "axis": null},
      "y": {"field": "lo", "type": "quantitative", "scale": {"domain": [0, 6.5], "nice": false, "zero": false}, "axis": null}}},
    {"data": {"name": "d_data"}, "transform": [{"filter": "datum.m === 'n14'"}], "mark": {"type": "point", "shape": "circle", "filled": true, "color": "#d63ef2", "size": 150, "opacity": 1},
     "encoding": {
      "x": {"field": "q", "type": "quantitative", "scale": {"domain": [0, 22.5], "nice": false, "zero": false}, "axis": null},
      "y": {"field": "y", "type": "quantitative", "scale": {"domain": [0, 6.5], "nice": false, "zero": false}, "axis": null}}},
    {"data": {"values": [
       {"q": 0.93, "y": 6.13, "label": "Electroreduction", "tone": "blue"},
       {"q": 0.93, "y": 5.49, "label": "using ¹⁵N₂", "tone": "blue"},
       {"q": 9.87, "y": 4.22, "label": "Indophenol", "tone": "indo"},
       {"q": 16.55, "y": 2.58, "label": "NMR ¹⁵NH₃", "tone": "n15"},
       {"q": 16.6, "y": 0.83, "label": "NMR ¹⁴NH₃", "tone": "n14"}]},
     "mark": {"type": "text", "fontSize": 19, "align": "left", "baseline": "middle"},
     "encoding": {
      "x": {"field": "q", "type": "quantitative", "scale": {"domain": [0, 22.5], "nice": false, "zero": false}, "axis": null},
      "y": {"field": "y", "type": "quantitative", "scale": {"domain": [0, 6.5], "nice": false, "zero": false}, "axis": null},
      "text": {"field": "label"},
      "color": {"field": "tone", "type": "nominal", "scale": {"domain": ["k","g","blue","purple","magenta","indo","n15","n14"], "range": ["black","#808080","#4a7ebb","#7a1fe0","#e040fb","#1ea3f0","#6a1ad6","#d63ef2"]}, "legend": null}}},
    {"data": {"values": [{"q": -3.16, "y": 7.037, "label": "d)"}]}, "mark": {"type": "text", "fontSize": 22, "fontWeight": "bold", "align": "left", "baseline": "middle", "color": "black"},
     "encoding": {
      "x": {"field": "q", "type": "quantitative", "scale": {"domain": [0, 22.5], "nice": false, "zero": false}, "axis": null},
      "y": {"field": "y", "type": "quantitative", "scale": {"domain": [0, 6.5], "nice": false, "zero": false}, "axis": null},
      "text": {"field": "label"}}},
    {"data": {"values": [{"q": 9.86, "y": 7.037, "label": "Product quantification"}]}, "mark": {"type": "text", "fontSize": 23, "fontWeight": "bold", "align": "center", "baseline": "middle", "color": "black"},
     "encoding": {
      "x": {"field": "q", "type": "quantitative", "scale": {"domain": [0, 22.5], "nice": false, "zero": false}, "axis": null},
      "y": {"field": "y", "type": "quantitative", "scale": {"domain": [0, 6.5], "nice": false, "zero": false}, "axis": null},
      "text": {"field": "label"}}}
   ]
  }
]
}
